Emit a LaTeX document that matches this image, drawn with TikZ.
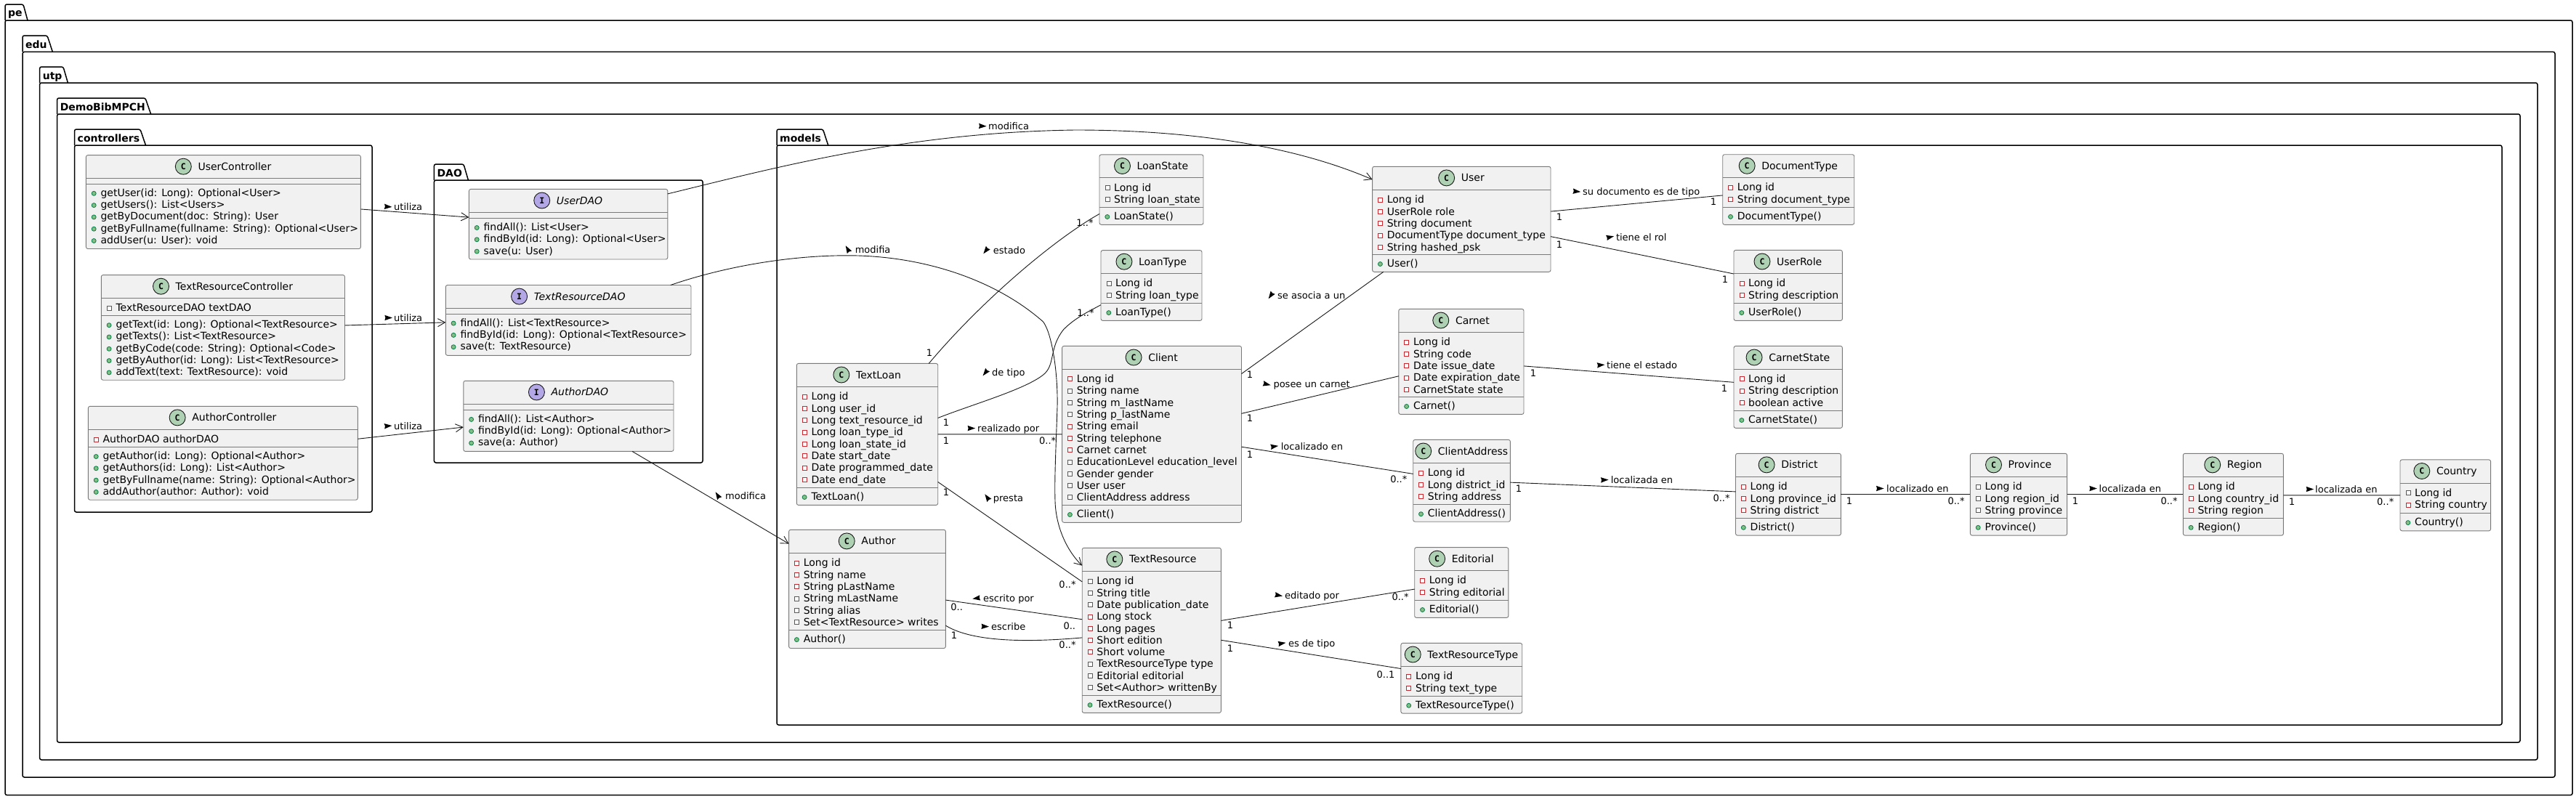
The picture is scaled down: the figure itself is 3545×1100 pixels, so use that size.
\documentclass[tikz,border=0pt]{standalone}
\usepackage{fontspec}
\setmainfont{DejaVu Sans}
\newfontfamily\spotfont{DejaVu Sans Mono}
\usetikzlibrary{arrows.meta}
\definecolor{boxfill}{HTML}{F1F1F1}
\definecolor{boxline}{HTML}{181818}
\definecolor{boxedge}{HTML}{7A7A7A}
\definecolor{spotC}{HTML}{ADD1B2}
\definecolor{spotI}{HTML}{B4A7E5}
\definecolor{privred}{HTML}{C82930}
\definecolor{pubgreen}{HTML}{84BE84}
\definecolor{publine}{HTML}{038048}
\tikzset{
  classbox/.style={draw=boxedge,fill=boxfill,line width=0.9pt,rounded corners=2.5pt,inner sep=0pt,outer sep=0pt,anchor=north west},
  classline/.style={draw=boxedge,line width=0.9pt},
  spotnode/.style={circle,draw=boxline,line width=0.9pt,minimum size=22pt,inner sep=0pt,font=\spotfont\bfseries\fontsize{11.5}{12}\selectfont},
  titletext/.style={anchor=base,inner sep=0pt,font=\fontsize{14}{16}\selectfont},
  membertext/.style={anchor=base west,inner sep=0pt,font=\fontsize{14}{16}\selectfont},
  privicon/.style={draw=privred,fill=white,line width=0.9pt},
  pubicon/.style={draw=publine,fill=pubgreen,line width=0.8pt},
  pkgbody/.style={draw=black,line width=1.5pt,rounded corners=2.5pt,inner sep=0pt,outer sep=0pt,anchor=north west},
  pkgtab/.style={draw=black,line width=1.5pt,rounded corners=2.5pt},
  pkgtitle/.style={anchor=base west,inner sep=0pt,font=\bfseries\fontsize{14}{16}\selectfont},
  assoc/.style={draw=boxline,line width=0.9pt},
  assocarrow/.style={draw=boxline,line width=0.9pt,-{Straight Barb[length=10pt,width=11pt,line width=0.9pt]}},
  linklabel/.style={anchor=base west,inner sep=0pt,font=\fontsize{13}{15}\selectfont},
  multlabel/.style={anchor=base,inner sep=0pt,font=\fontsize{13}{15}\selectfont},
}
\newcommand\umlpkg[9]{%
  \pgfmathsetmacro\pw{#6-#3}\pgfmathsetmacro\ph{#7-#5}%
  \node[pkgbody,minimum width=\pw pt,minimum height=\ph pt] (#1) at (#3,#5) {};
  \draw[pkgtab] (#3,#5) -- (#3,#4) -- (#8,#4) -- (#9,#5);
  \node[pkgtitle] (#1-title) at (#3+4,#4+17) {#2};
}
\newcommand\umlbox[7]{%
  \def\bid{#1}\def\bxa{#2}\def\bya{#3}\def\bxb{#4}\def\byb{#5}\def\bhdr{#6}\def\bdiv{#7}%
  \pgfmathsetmacro\bw{#4-#2}\pgfmathsetmacro\bh{#5-#3}%
  \node[classbox,minimum width=\bw pt,minimum height=\bh pt] (#1) at (#2,#3) {};
  \draw[classline] (#2,#6) -- (#4,#6);
  \draw[classline] (#2,#7) -- (#4,#7);
}
% the group spot + gap + title is centred, so the title's centre is 15.5 right of the box's
\newcommand\umltitle[3]{%
  \pgfmathsetmacro\tcx{(\bxa+\bxb)/2+15.5}%
  \node[titletext] (\bid-title) at (\tcx,\bya+20.6) {#3};
  \coordinate (\bid-spoty) at (0,\bya+15.6);
  \path (\bid-title.base west) ++(-20,0) coordinate (\bid-spotx);
  \node[spotnode,fill=#2] (\bid-spot) at (\bid-spotx |- \bid-spoty) {#1};
}
\newcommand\umlfields[1]{%
  \foreach \mem [count=\mi from 0] in {#1}{%
    \pgfmathsetmacro\by{\bhdr+18.4+16.3*\mi}%
    \draw[privicon] (\bxa+8,\by-7.7) rectangle (\bxa+14,\by-1.7);
    \node[membertext] (\bid-f\mi) at (\bxa+20,\by) {\mem};
  }%
}
\newcommand\umlmethods[1]{%
  \foreach \mem [count=\mi from 0] in {#1}{%
    \pgfmathsetmacro\by{\bdiv+17+16.3*\mi}%
    \fill[pubicon] (\bxa+10.8,\by-3.9) circle (3pt);
    \node[membertext] (\bid-m\mi) at (\bxa+20,\by) {\mem};
  }%
}
\newcommand\umllabel[6]{% triangle x, y, angle, text x, y, text
  \fill[shift={(#1,#2)},rotate=#3] (5.5,0) -- (-5,3.7) -- (-4,0) -- (-5,-3.7) -- cycle;
  \node[linklabel] at (#4,#5+4.7) {#6};
}
\newcommand\umlmult[3]{\node[multlabel] at (#1,#2+4.7) {#3};}
\begin{document}
\begin{tikzpicture}[x=1pt,y=-1pt]
\useasboundingbox (0,0) rectangle (3545,1100);
% packages
\umlpkg{pe}{pe}{7}{6}{28}{3540}{1094.6}{32}{38}
\umlpkg{edu}{edu}{31}{49}{71.4}{3516}{1070}{65}{72.4}
\umlpkg{utp}{utp}{54.6}{92}{114}{3492}{1046}{87}{93.4}
\umlpkg{demo}{DemoBibMPCH}{78.6}{135}{157}{3468}{1022}{200}{207.6}
\umlpkg{controllers}{controllers}{102.5}{178}{200}{512}{705}{193}{200.5}
\umlpkg{dao}{DAO}{597.4}{226}{248}{967}{637}{638}{644.4}
\umlpkg{models}{models}{1069}{178}{200}{3443}{998}{1132.5}{1139.7}
% controllers
\umlbox{UserController}{118.4}{213.6}{496.4}{342.5}{245.4}{253.2}
\umltitle{C}{spotC}{UserController}
\umlmethods{getUser(id: Long): Optional<User>,getUsers(): List<Users>,getByDocument(doc: String): User,getByFullname(fullname: String): Optional<User>,addUser(u: User): void}
\umlbox{TextResourceController}{139.3}{378.6}{474.5}{523.2}{410.4}{434.6}
\umltitle{C}{spotC}{TextResourceController}
\umlfields{TextResourceDAO textDAO}
\umlmethods{getText(id: Long): Optional<TextResource>,getTexts(): List<TextResource>,getByCode(code: String): Optional<Code>,getByAuthor(id: Long): List<TextResource>,addText(text: TextResource): void}
\umlbox{AuthorController}{121.4}{559.3}{492.3}{688.2}{591.4}{615.4}
\umltitle{C}{spotC}{AuthorController}
\umlfields{AuthorDAO authorDAO}
\umlmethods{getAuthor(id: Long): Optional<Author>,getAuthors(id: Long): List<Author>,getByFullname(name: String): Optional<Author>,addAuthor(author: Author): void}
% DAO
\umlbox{UserDAO}{645.4}{260.4}{918.8}{357}{292.5}{300.4}
\umltitle{I}{spotI}{\itshape UserDAO}
\umlmethods{findAll(): List<User>,findById(id: Long): Optional<User>,save(u: User)}
\umlbox{TextResourceDAO}{613.3}{392.5}{951}{489.3}{424.3}{432}
\umltitle{I}{spotI}{\itshape TextResourceDAO}
\umlmethods{findAll(): List<TextResource>,findById(id: Long): Optional<TextResource>,save(t: TextResource)}
\umlbox{AuthorDAO}{637.8}{524.3}{927}{621.4}{556.4}{564.3}
\umltitle{I}{spotI}{\itshape AuthorDAO}
\umlmethods{findAll(): List<Author>,findById(id: Long): Optional<Author>,save(a: Author)}
% models
\umlbox{LoanState}{1513}{212.9}{1656}{309.3}{244.6}{285.4}
\umltitle{C}{spotC}{LoanState}
\umlfields{Long id,String loan\_state}
\umlmethods{LoanState()}
\umlbox{LoanType}{1515}{344.6}{1654}{441.4}{376.4}{417.5}
\umltitle{C}{spotC}{LoanType}
\umlfields{Long id,String loan\_type}
\umlmethods{LoanType()}
\umlbox{User}{1888.6}{229.3}{2134}{374.3}{261.4}{350.4}
\umltitle{C}{spotC}{User}
\umlfields{Long id,UserRole role,String document,DocumentType document\_type,String hashed\_psk}
\umlmethods{User()}
\umlbox{Carnet}{1924.8}{425.4}{2097}{570.4}{457.5}{546.4}
\umltitle{C}{spotC}{Carnet}
\umlfields{Long id,String code,Date issue\_date,Date expiration\_date,CarnetState state}
\umlmethods{Carnet()}
\umlbox{Client}{1461.6}{476.4}{1708.5}{719.3}{508.2}{695.4}
\umltitle{C}{spotC}{Client}
\umlfields{Long id,String name,String m\_lastName,String p\_lastName,String email,String telephone,Carnet carnet,EducationLevel education\_level,Gender gender,User user,ClientAddress address}
\umlmethods{Client()}
\umlbox{TextLoan}{1096.3}{500.4}{1290.7}{695.4}{532.5}{671.4}
\umltitle{C}{spotC}{TextLoan}
\umlfields{Long id,Long user\_id,Long text\_resource\_id,Long loan\_type\_id,Long loan\_state\_id,Date start\_date,Date programmed\_date,Date end\_date}
\umlmethods{TextLoan()}
\umlbox{Author}{1085.6}{729.3}{1301.4}{892.5}{761.4}{867.5}
\umltitle{C}{spotC}{Author}
\umlfields{Long id,String name,String pLastName,String mLastName,String alias,Set<TextResource> writes}
\umlmethods{Author()}
\umlbox{TextResource}{1489.2}{754.3}{1680.4}{981.4}{786.4}{957.5}
\umltitle{C}{spotC}{TextResource}
\umlfields{Long id,String title,Date publication\_date,Long stock,Long pages,Short edition,Short volume,TextResourceType type,Editorial editorial,Set<Author> writtenBy}
\umlmethods{TextResource()}
\umlbox{ClientAddress}{1944.7}{605.4}{2078.4}{718.2}{637.5}{694.6}
\umltitle{C}{spotC}{ClientAddress}
\umlfields{Long id,Long district\_id,String address}
\umlmethods{ClientAddress()}
\umlbox{Editorial}{1946.7}{753.6}{2075.8}{850.4}{785.4}{826.4}
\umltitle{C}{spotC}{Editorial}
\umlfields{Long id,String editorial}
\umlmethods{Editorial()}
\umlbox{TextResourceType}{1927.9}{885.4}{2094.7}{982.1}{917.5}{958.2}
\umltitle{C}{spotC}{TextResourceType}
\umlfields{Long id,String text\_type}
\umlmethods{TextResourceType()}
\umlbox{DocumentType}{2370.7}{212.7}{2551.7}{309.3}{244.3}{285.3}
\umltitle{C}{spotC}{DocumentType}
\umlfields{Long id,String document\_type}
\umlmethods{DocumentType()}
\umlbox{UserRole}{2386}{344.4}{2535.4}{441.4}{376.4}{417.5}
\umltitle{C}{spotC}{UserRole}
\umlfields{Long id,String description}
\umlmethods{UserRole()}
\umlbox{CarnetState}{2386}{476.4}{2535.4}{589.3}{508.2}{565.4}
\umltitle{C}{spotC}{CarnetState}
\umlfields{Long id,String description,boolean active}
\umlmethods{CarnetState()}
\umlbox{District}{2388.5}{624.3}{2533.4}{737.1}{656.4}{713.2}
\umltitle{C}{spotC}{District}
\umlfields{Long id,Long province\_id,String district}
\umlmethods{District()}
\umlbox{Province}{2711.4}{624.3}{2844.6}{737.1}{656.4}{713.2}
\umltitle{C}{spotC}{Province}
\umlfields{Long id,Long region\_id,String province}
\umlmethods{Province()}
\umlbox{Region}{3004.3}{624.3}{3142.4}{737.1}{656.4}{713.2}
\umltitle{C}{spotC}{Region}
\umlfields{Long id,Long country\_id,String region}
\umlmethods{Region()}
\umlbox{Country}{3303}{632.9}{3427.6}{730.8}{665.2}{706.5}
\umltitle{C}{spotC}{Country}
\umlfields{Long id,String country}
\umlmethods{Country()}
% connectors
\draw[assocarrow] (UserController.-3.7) -- (UserDAO.176.1);
\draw[assocarrow] (TextResourceController.1.3) -- (TextResourceDAO.181.4);
\draw[assocarrow] (AuthorController.6) -- (AuthorDAO.186.5);
\draw[assocarrow] (UserDAO.17) .. controls (1070,230) and (1250,182) .. (1480,179) .. controls (1620,179) and (1770,196) .. (User.156.1);
\draw[assocarrow] (TextResourceDAO.19.4) .. controls (1000,366) and (1090,351.5) .. (1167.8,351.8) .. controls (1270,352) and (1370,385) .. (1435.6,443) .. controls (1447,458) and (1456,510) .. (1455,560) .. controls (1453,620) and (1451,660) .. (1452,690) .. controls (1453,725) and (1468,758) .. (TextResource.137.4);
\draw[assocarrow] (AuthorDAO.-29.6) -- (Author.150);
\draw[assoc] (TextLoan.49.3) .. controls (1350,415) and (1450,330) .. (LoanState.205.1);
\draw[assoc] (TextLoan.13.8) .. controls (1340,556) and (1415,535) .. (1438,514) .. controls (1452,500) and (1444,478) .. (1463.7,453.6) .. controls (1480,437) and (1500,428) .. (LoanType.201.7);
\draw[assoc] (TextLoan.-0.4) -- (Client.180.3);
\draw[assoc] (TextLoan.-34.3) -- (TextResource.145.4);
\draw[assoc] (Author.-8.2) -- (TextResource.171.9);
\draw[assoc] (Author.-25.6) .. controls (1340,885) and (1420,884) .. (TextResource.186.1);
\draw[assoc] (Client.34.7) -- (User.214.3);
\draw[assoc] (Client.13) -- (Carnet.193.5);
\draw[assoc] (Client.-8.5) -- (ClientAddress.172.4);
\draw[assoc] (User.5.3) -- (DocumentType.185.2);
\draw[assoc] (User.-11.3) -- (UserRole.168);
\draw[assoc] (Carnet.-4.4) -- (CarnetState.175.5);
\draw[assoc] (ClientAddress.-2.1) -- (District.177.1);
\draw[assoc] (District.-0.6) -- (Province.180.6);
\draw[assoc] (Province.-0.6) -- (Region.180.6);
\draw[assoc] (Region.-1.1) -- (Country.180);
\draw[assoc] (TextResource.8.8) -- (Editorial.188.3);
\draw[assoc] (TextResource.-8.4) -- (TextResourceType.171.6);
% link labels
\umllabel{533.9}{284.6}{-3}{542}{284.6}{utiliza}
\umllabel{534.4}{437.5}{0}{542}{437.5}{utiliza}
\umllabel{533.9}{586.4}{4}{542}{586.4}{utiliza}
\umllabel{1352}{173.6}{-2}{1360}{173.6}{modifica}
\umllabel{1166.5}{343}{120}{1176.6}{343.4}{modifia}
\umllabel{1356.7}{345}{232}{1366.7}{345}{estado}
\umllabel{1356}{513}{232}{1365}{513}{de tipo}
\umllabel{1336.6}{589.6}{0}{1345}{589.6}{realizado por}
\umllabel{1358.5}{684.8}{125}{1366.7}{685.4}{presta}
\umllabel{987.6}{682}{122}{998}{683}{modifica}
\umllabel{1343.8}{823.6}{188}{1353}{823.6}{escrito por}
\umllabel{1355.5}{862.5}{-2}{1364}{862.5}{escribe}
\umllabel{1748.8}{406.8}{235}{1758}{406.8}{se asocia a un}
\umllabel{1743.2}{529}{-13}{1752.3}{529}{posee un carnet}
\umllabel{1753.6}{614.6}{8}{1762.6}{614.6}{localizado en}
\umllabel{2169.7}{263.6}{-5}{2178}{263.6}{su documento es de tipo}
\umllabel{2215.6}{326.4}{12}{2223.8}{326.4}{tiene el rol}
\umllabel{2202.9}{502.5}{4}{2211}{502.5}{tiene el estado}
\umllabel{2208}{660.7}{2}{2216.6}{660.7}{localizada en}
\umllabel{2587}{672.5}{0}{2596}{672.5}{localizado en}
\umllabel{2880.3}{672.5}{0}{2888.5}{672.5}{localizada en}
\umllabel{3178.6}{673.5}{0}{3186}{673.5}{localizada en}
\umllabel{1759.5}{819.6}{-10}{1768}{819.6}{editado por}
\umllabel{1764}{885.7}{9}{1772.8}{885.7}{es de tipo}
% multiplicities
\umlmult{1279}{485.7}{1}
\umlmult{1493}{306.4}{1..*}
\umlmult{1302}{582}{1}
\umlmult{1494}{431}{1..*}
\umlmult{1302}{606.8}{1}
\umlmult{1441.7}{606.8}{0..*}
\umlmult{1302}{677.5}{1}
\umlmult{1469}{805}{0..*}
\umlmult{1316.7}{835.7}{0..}
\umlmult{1471.8}{862}{0..}
\umlmult{1313}{874.6}{1}
\umlmult{1469}{887.5}{0..*}
\umlmult{1720}{515.4}{1}
\umlmult{1720}{575.4}{1}
\umlmult{1720}{625.4}{1}
\umlmult{1924.8}{659.6}{0..*}
\umlmult{2146}{298.6}{1}
\umlmult{2358}{278}{1}
\umlmult{2146}{336.4}{1}
\umlmult{2374}{384.6}{1}
\umlmult{2110}{513.6}{1}
\umlmult{2373}{534.6}{1}
\umlmult{2090}{673}{1}
\umlmult{2369}{685.4}{0..*}
\umlmult{2545}{689.3}{1}
\umlmult{2692}{689.3}{0..*}
\umlmult{2856}{689.3}{1}
\umlmult{2985}{689.3}{0..*}
\umlmult{3154}{690.5}{1}
\umlmult{3282.7}{690.5}{0..*}
\umlmult{1693}{860.7}{1}
\umlmult{1927}{821.4}{0..*}
\umlmult{1693}{892.5}{1}
\umlmult{1907}{928.6}{0..1}
\end{tikzpicture}
\end{document}
